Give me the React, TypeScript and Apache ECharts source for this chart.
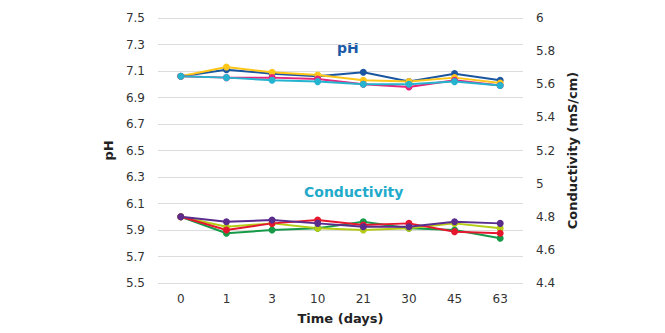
import React, { useEffect, useRef } from "react";
import * as echarts from "echarts";

const days = ["0", "1", "3", "10", "21", "30", "45", "63"];

const phBlue = [7.06, 7.11, 7.08, 7.06, 7.09, 7.02, 7.08, 7.03];
const phYellow = [7.06, 7.13, 7.09, 7.07, 7.03, 7.02, 7.05, 7.01];
const phPink = [7.06, 7.05, 7.05, 7.04, 7.0, 6.98, 7.03, 6.99];
const phCyan = [7.06, 7.05, 7.03, 7.02, 7.0, 7.0, 7.02, 6.99];

const condGreen = [4.8, 4.7, 4.72, 4.73, 4.77, 4.73, 4.72, 4.67];
const condLime = [4.8, 4.74, 4.76, 4.73, 4.72, 4.73, 4.76, 4.73];
const condRed = [4.8, 4.72, 4.76, 4.78, 4.75, 4.76, 4.71, 4.7];
const condPurple = [4.8, 4.77, 4.78, 4.76, 4.74, 4.74, 4.77, 4.76];

const FONT = "DejaVu Sans, Verdana, sans-serif";

export default function App() {
  const ref = useRef<HTMLDivElement>(null);
  useEffect(() => {
    if (!ref.current) return;
    const chart = echarts.init(ref.current, null, { renderer: "svg" });
    const line = (name: string, data: number[], color: string, yAxisIndex: number) => ({
      name,
      type: "line",
      data,
      yAxisIndex,
      symbol: "circle",
      symbolSize: 7,
      lineStyle: { color, width: 2 },
      itemStyle: { color },
    });
    chart.setOption({
      animation: false,
      textStyle: { fontFamily: FONT },
      grid: { left: 158, right: 142, top: 18, bottom: 50 },
      xAxis: {
        type: "category",
        data: days,
        boundaryGap: true,
        axisLine: { show: false },
        axisTick: { show: false },
        axisLabel: { color: "#333", fontSize: 12, fontFamily: FONT, margin: 10 },
        name: "Time (days)",
        nameLocation: "middle",
        nameGap: 29,
        nameTextStyle: { color: "#222", fontSize: 13, fontWeight: "bold", fontFamily: FONT },
      },
      yAxis: [
        {
          type: "value",
          min: 5.5,
          max: 7.5,
          interval: 0.2,
          axisLine: { show: false },
          axisTick: { show: false },
          splitLine: { lineStyle: { color: "#dcdcdc", width: 1 } },
          axisLabel: {
            color: "#333",
            fontSize: 12,
            fontFamily: FONT,
            margin: 13,
            formatter: (v: number) => v.toFixed(1),
          },
          name: "pH",
          nameLocation: "middle",
          nameGap: 37,
          nameTextStyle: { color: "#222", fontSize: 13, fontWeight: "bold", fontFamily: FONT },
        },
        {
          type: "value",
          min: 4.4,
          max: 6,
          interval: 0.2,
          axisLine: { show: false },
          axisTick: { show: false },
          splitLine: { show: false },
          axisLabel: {
            color: "#333",
            fontSize: 12,
            fontFamily: FONT,
            margin: 13,
            formatter: (v: number) => String(Math.round(v * 10) / 10),
          },
          name: "Conductivity (mS/cm)",
          nameLocation: "middle",
          nameGap: 40,
          nameRotate: 90,
          nameTextStyle: { color: "#222", fontSize: 13, fontWeight: "bold", fontFamily: FONT },
        },
      ],
      graphic: [
        {
          type: "text",
          left: 337,
          top: 41,
          style: { text: "pH", fill: "#1B5AA6", font: `bold 14px ${FONT}` },
        },
        {
          type: "text",
          left: 304,
          top: 185,
          style: { text: "Conductivity", fill: "#22AACB", font: `bold 14px ${FONT}` },
        },
      ],
      series: [
        line("pH A", phBlue, "#1B56A0", 0),
        line("pH B", phYellow, "#FFC61A", 0),
        line("pH C", phPink, "#E6237D", 0),
        line("pH D", phCyan, "#25B4CF", 0),
        line("Cond A", condGreen, "#169A48", 1),
        line("Cond B", condLime, "#B4CC14", 1),
        line("Cond C", condRed, "#E5172F", 1),
        line("Cond D", condPurple, "#5A2C8E", 1),
      ],
    });
    return () => chart.dispose();
  }, []);
  return <div ref={ref} style={{ width: 665, height: 333, position: "absolute", left: 0, top: 0 }} />;
}
